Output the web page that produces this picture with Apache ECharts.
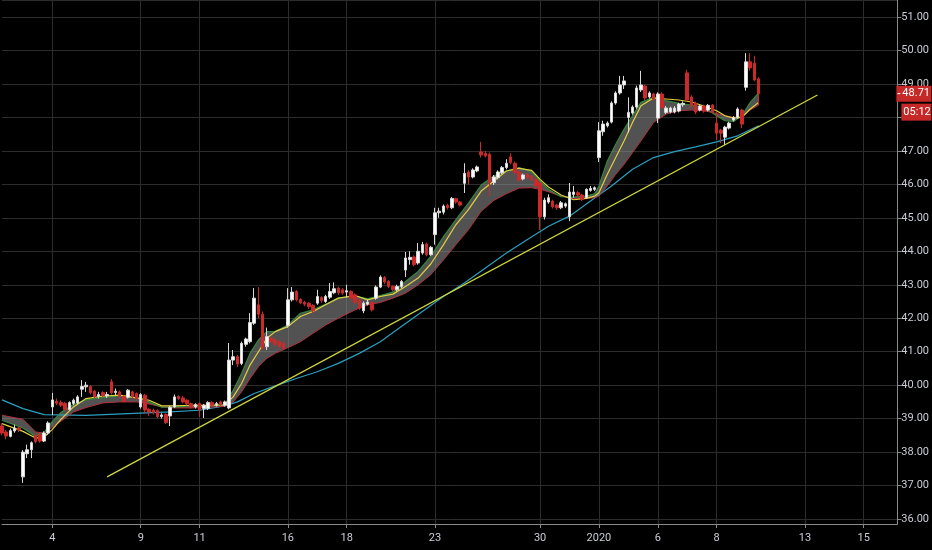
<!DOCTYPE html>
<html lang="en">
<head>
    <meta charset="UTF-8">
    <title>Hourly candles with EMA ribbon</title>
    <script src="https://cdn.jsdelivr.net/npm/echarts@6/dist/echarts.min.js"></script>
    <style>
        html, body { margin: 0; padding: 0; background: #000; }
        #chart { width: 932px; height: 550px; }
    </style>
</head>
<body>
<div id="chart"></div>
<script type="text/javascript">

    // trading sessions shown: [date, hourly bars]
    let sessions = [
        ['2019-12-02', 5], ['2019-12-03', 7], ['2019-12-04', 7], ['2019-12-05', 7], ['2019-12-06', 7],
        ['2019-12-09', 7], ['2019-12-10', 7], ['2019-12-11', 7], ['2019-12-12', 7], ['2019-12-13', 7],
        ['2019-12-16', 7], ['2019-12-17', 7], ['2019-12-18', 7], ['2019-12-19', 7], ['2019-12-20', 7],
        ['2019-12-23', 7], ['2019-12-24', 4], ['2019-12-26', 7], ['2019-12-27', 7], ['2019-12-30', 7],
        ['2019-12-31', 7], ['2020-01-02', 7], ['2020-01-03', 7], ['2020-01-06', 7], ['2020-01-07', 7],
        ['2020-01-08', 7], ['2020-01-09', 7], ['2020-01-10', 7], ['2020-01-13', 7], ['2020-01-14', 7],
        ['2020-01-15', 7], ['2020-01-16', 2]
    ];
    let hours = ['09:30', '10:30', '11:30', '12:30', '13:30', '14:30', '15:30'];

    let tickDates = ['2019-12-04', '2019-12-09', '2019-12-11', '2019-12-16', '2019-12-18', '2019-12-23',
        '2019-12-30', '2020-01-02', '2020-01-06', '2020-01-08', '2020-01-13', '2020-01-15'];
    let tickTexts = ['4', '9', '11', '16', '18', '23', '30', '2020', '6', '8', '13', '15'];

    // [open, close, low, high]
    let candles = [
        [38.78, 38.57, 38.50, 38.86], [38.60, 38.48, 38.38, 38.66], [38.47, 38.64, 38.44, 38.70], [38.63, 38.72, 38.58, 38.82],
        [38.72, 38.66, 38.60, 38.76], [37.26, 38.00, 37.08, 38.06], [37.95, 38.07, 37.82, 38.22], [38.07, 38.28, 37.82, 38.32],
        [38.50, 38.32, 38.26, 38.56], [38.52, 38.33, 38.28, 38.58], [38.33, 38.57, 38.30, 38.62], [38.57, 38.87, 38.52, 38.92],
        [39.35, 39.56, 39.11, 39.77], [39.52, 39.46, 39.40, 39.60], [39.48, 39.40, 39.35, 39.55], [39.45, 39.27, 39.22, 39.50],
        [39.27, 39.48, 39.24, 39.52], [39.45, 39.55, 39.40, 39.60], [39.47, 39.65, 39.44, 39.70], [39.88, 39.96, 39.65, 40.15],
        [39.95, 40.00, 39.80, 40.10], [39.96, 39.78, 39.72, 40.00], [39.82, 39.65, 39.60, 39.86], [39.66, 39.72, 39.60, 39.80],
        [39.78, 39.70, 39.64, 39.82], [39.68, 39.72, 39.62, 39.80], [40.10, 39.77, 39.72, 40.18], [39.78, 39.82, 39.70, 39.90],
        [39.80, 39.66, 39.62, 39.84], [39.66, 39.52, 39.48, 39.70], [39.64, 39.85, 39.60, 39.88], [39.80, 39.66, 39.62, 39.84],
        [39.75, 39.60, 39.56, 39.78], [39.35, 39.72, 39.30, 39.76], [39.70, 39.26, 39.16, 39.74], [39.28, 39.20, 39.08, 39.32],
        [39.25, 39.18, 39.12, 39.30], [39.24, 39.06, 39.02, 39.28], [39.06, 39.11, 39.00, 39.16], [39.12, 38.88, 38.84, 39.16],
        [39.08, 39.34, 38.78, 39.38], [39.35, 39.65, 39.32, 39.72], [39.66, 39.60, 39.56, 39.70], [39.62, 39.50, 39.46, 39.68],
        [39.55, 39.45, 39.40, 39.58], [39.45, 39.35, 39.30, 39.48], [39.35, 39.42, 39.30, 39.46], [39.45, 39.26, 39.05, 39.48],
        [39.30, 39.40, 39.02, 39.44], [39.30, 39.48, 39.26, 39.52], [39.48, 39.40, 39.36, 39.52], [39.40, 39.45, 39.36, 39.50],
        [39.50, 39.42, 39.38, 39.54], [39.40, 39.50, 39.36, 39.54], [39.32, 40.75, 39.28, 41.26], [40.75, 40.85, 40.60, 41.05],
        [40.85, 40.63, 40.54, 40.90], [40.65, 41.25, 40.60, 41.30], [41.22, 41.38, 41.15, 41.42], [41.30, 41.87, 41.25, 42.15],
        [41.85, 42.60, 41.80, 42.90], [42.40, 42.12, 42.00, 42.93], [42.12, 41.12, 41.05, 42.20], [41.15, 41.45, 41.05, 41.72],
        [41.40, 41.32, 41.26, 41.45], [41.35, 41.22, 41.16, 41.40], [41.30, 41.16, 41.10, 41.34], [41.25, 41.10, 41.05, 41.30],
        [41.78, 42.55, 41.72, 42.90], [42.55, 42.78, 42.50, 42.93], [42.80, 42.55, 42.50, 42.84], [42.56, 42.46, 42.42, 42.60],
        [42.48, 42.42, 42.36, 42.52], [42.45, 42.35, 42.28, 42.48], [42.38, 42.22, 42.15, 42.42], [42.45, 42.65, 42.40, 42.85],
        [42.62, 42.52, 42.46, 42.66], [42.50, 42.65, 42.46, 42.70], [42.63, 42.80, 42.58, 43.05], [42.76, 42.88, 42.72, 43.07],
        [42.90, 42.76, 42.70, 42.94], [42.85, 42.75, 42.70, 42.90], [42.78, 42.82, 42.62, 43.00], [42.80, 42.60, 42.55, 42.84],
        [42.70, 42.48, 42.42, 42.74], [42.55, 42.30, 42.25, 42.58], [42.22, 42.45, 42.15, 42.50], [42.42, 42.48, 42.38, 42.55],
        [42.47, 42.25, 42.20, 42.50], [42.60, 42.93, 42.55, 42.98], [42.93, 43.23, 42.90, 43.28], [43.22, 43.08, 43.02, 43.26],
        [43.10, 42.95, 42.90, 43.14], [42.95, 42.85, 42.80, 42.98], [42.85, 42.95, 42.80, 43.00], [42.95, 43.10, 42.90, 43.14],
        [43.44, 43.80, 43.23, 43.98], [43.75, 43.82, 43.60, 44.00], [43.83, 43.60, 43.55, 43.88], [43.65, 44.00, 43.60, 44.25],
        [43.95, 44.20, 43.90, 44.28], [44.22, 43.90, 43.85, 44.26], [43.90, 44.12, 43.86, 44.16], [44.50, 45.15, 44.20, 45.30],
        [45.15, 45.20, 45.00, 45.30], [45.17, 45.35, 45.10, 45.40], [45.37, 45.30, 45.25, 45.42], [45.30, 45.58, 45.26, 45.62],
        [45.57, 45.47, 45.42, 45.60], [45.47, 45.38, 45.34, 45.50], [46.03, 46.33, 45.74, 46.63], [46.37, 46.22, 46.00, 46.42],
        [46.22, 46.43, 46.18, 46.48], [46.40, 46.52, 46.36, 46.56], [46.97, 46.88, 46.80, 47.27], [46.92, 46.85, 46.80, 47.00],
        [46.90, 46.05, 45.65, 46.95], [46.05, 46.22, 45.98, 46.28], [46.20, 46.37, 46.15, 46.42], [46.35, 46.50, 46.30, 46.55],
        [46.50, 46.63, 46.45, 46.75], [46.82, 46.65, 46.60, 46.93], [46.63, 46.35, 46.30, 46.68], [46.37, 46.13, 46.08, 46.42],
        [46.16, 46.28, 46.12, 46.32], [46.30, 46.20, 46.16, 46.34], [46.25, 46.15, 46.10, 46.28], [46.15, 45.95, 45.90, 46.18],
        [46.04, 45.03, 44.64, 46.10], [45.03, 45.53, 44.95, 45.60], [45.47, 45.60, 45.42, 45.70], [45.50, 45.33, 45.28, 45.54],
        [45.38, 45.30, 45.24, 45.42], [45.30, 45.45, 45.26, 45.50], [45.35, 45.42, 45.30, 45.46], [45.03, 45.77, 44.90, 46.04],
        [45.70, 45.77, 45.60, 45.95], [45.75, 45.68, 45.62, 45.80], [45.68, 45.55, 45.50, 45.72], [45.60, 45.85, 45.56, 45.88],
        [45.82, 45.88, 45.78, 45.95], [45.85, 45.90, 45.80, 45.94], [46.80, 47.60, 46.67, 47.86], [47.57, 47.80, 47.45, 47.90],
        [47.75, 47.83, 47.70, 47.88], [47.86, 48.43, 47.82, 48.48], [48.43, 48.73, 48.38, 48.78], [48.73, 48.97, 48.68, 49.24],
        [48.97, 49.09, 48.85, 49.24], [48.00, 48.15, 47.55, 48.60], [48.13, 48.31, 48.08, 48.36], [48.31, 48.88, 48.26, 48.95],
        [48.82, 48.97, 48.76, 49.39], [48.94, 48.58, 48.52, 48.98], [48.61, 48.73, 48.56, 48.78], [48.70, 48.55, 48.50, 48.74],
        [47.98, 48.70, 47.83, 48.75], [48.70, 48.30, 48.25, 48.75], [48.15, 48.28, 48.10, 48.34], [48.16, 48.28, 48.12, 48.32],
        [48.16, 48.28, 48.12, 48.34], [48.19, 48.40, 48.15, 48.44], [48.38, 48.42, 48.32, 48.48], [49.33, 48.52, 48.48, 49.42],
        [48.61, 48.34, 48.28, 48.66], [48.43, 48.16, 48.10, 48.47], [48.22, 48.34, 48.18, 48.38], [48.34, 48.19, 48.14, 48.38],
        [48.22, 48.36, 48.18, 48.40], [48.37, 48.16, 48.12, 48.40], [47.83, 47.53, 47.33, 48.16], [47.62, 47.53, 47.23, 47.66],
        [47.41, 47.71, 47.17, 47.75], [47.68, 47.83, 47.64, 47.87], [47.92, 48.00, 47.88, 48.04], [48.00, 48.25, 47.96, 48.30],
        [48.22, 47.80, 47.68, 48.26], [48.90, 49.66, 48.80, 49.92], [49.66, 49.48, 49.40, 49.92], [49.62, 49.12, 49.08, 49.84],
        [49.15, 48.71, 48.37, 49.20]
    ];

    // moving averages at these bar indices
    let maIdx = [0, 5, 8, 10, 12, 14, 17, 20, 24, 28, 32, 35, 38, 41, 45, 49, 53, 55, 57, 59, 61, 63, 65, 68, 71, 74,
        77, 80, 84, 87, 90, 93, 96, 99, 102, 105, 108, 111, 114, 117, 120, 123, 126, 128, 130, 133, 136, 139, 141, 142,
        144, 146, 148, 150, 152, 155, 158, 161, 164, 167, 170, 172, 174, 176, 178, 180];
    let greenMa = [38.95, 38.72, 38.47, 38.58, 38.92, 39.18, 39.42, 39.56, 39.63, 39.68, 39.63, 39.50, 39.34, 39.35, 39.38,
        39.38, 39.41, 39.85, 40.35, 40.95, 41.35, 41.60, 41.60, 41.80, 42.15, 42.25, 42.42, 42.60, 42.66, 42.58, 42.68,
        42.78, 43.10, 43.40, 43.85, 44.43, 44.95, 45.45, 45.98, 46.25, 46.40, 46.50, 46.38, 46.10, 45.85, 45.63, 45.62,
        45.65, 45.72, 45.95, 46.70, 47.20, 47.65, 48.05, 48.45, 48.60, 48.50, 48.42, 48.37, 48.30, 48.05, 47.90, 47.88,
        48.05, 48.45, 48.73];
    let yellowMa = [38.85, 38.62, 38.42, 38.45, 38.68, 38.98, 39.35, 39.60, 39.67, 39.70, 39.62, 39.55, 39.38, 39.38, 39.40,
        39.40, 39.41, 39.65, 40.05, 40.60, 41.00, 41.40, 41.60, 41.75, 42.05, 42.20, 42.40, 42.60, 42.68, 42.55, 42.65,
        42.72, 42.95, 43.20, 43.62, 44.19, 44.80, 45.25, 45.80, 46.10, 46.40, 46.48, 46.42, 46.15, 45.92, 45.68, 45.54,
        45.58, 45.65, 45.75, 46.30, 46.80, 47.30, 47.85, 48.35, 48.58, 48.55, 48.52, 48.46, 48.34, 48.20, 48.05, 47.98,
        48.00, 48.25, 48.45];
    let redMa = [39.10, 38.98, 38.60, 38.57, 38.75, 38.92, 39.20, 39.33, 39.47, 39.50, 39.50, 39.44, 39.35, 39.32, 39.32,
        39.34, 39.37, 39.50, 39.80, 40.20, 40.55, 40.80, 40.95, 41.12, 41.30, 41.55, 41.80, 42.00, 42.25, 42.40, 42.47,
        42.60, 42.75, 43.00, 43.30, 43.74, 44.20, 44.65, 45.20, 45.52, 45.72, 45.89, 45.90, 45.85, 45.78, 45.65, 45.58,
        45.58, 45.60, 45.65, 45.95, 46.30, 46.60, 46.95, 47.30, 47.85, 48.10, 48.20, 48.22, 48.20, 48.12, 48.05, 48.00,
        48.02, 48.22, 48.37];

    let tealIdx = [0, 5, 10, 20, 30, 40, 47, 53, 56, 60, 65, 70, 75, 80, 85, 90, 95, 100, 105, 110, 115, 120, 125, 130,
        135, 140, 145, 150, 155, 160, 165, 170, 175, 180];
    let tealMa = [39.56, 39.30, 39.12, 39.10, 39.15, 39.20, 39.25, 39.38, 39.50, 39.75, 39.98, 40.20, 40.40, 40.65, 40.95,
        41.30, 41.75, 42.20, 42.65, 43.05, 43.50, 43.95, 44.35, 44.75, 45.05, 45.50, 45.95, 46.45, 46.80, 46.98, 47.12,
        47.27, 47.45, 47.75];

    // support trendline [bar index, price]
    let trendLine = [[25, 37.26], [194, 48.67]];

    let countdown = '05:12';

    // build the bar categories
    let categories = [];
    let firstBar = {};
    sessions.forEach(function (s, k) {
        let list = k === 0 ? hours.slice(hours.length - s[1]) : hours.slice(0, s[1]);
        firstBar[s[0]] = categories.length;
        list.forEach(function (h) { categories.push(s[0] + ' ' + h); });
    });
    let tickMap = {};
    tickDates.forEach(function (d, k) { tickMap[firstBar[d]] = tickTexts[k]; });
    let showTick = function (index) { return tickMap[index] !== undefined; };

    let pairs = function (idx, vals) {
        return idx.map(function (d, k) { return [d, vals[k]]; });
    };
    let lastClose = candles[candles.length - 1][1];

    let axisFont = { color: '#c9ccd4', fontSize: 11, fontFamily: 'Roboto, "DejaVu Sans", sans-serif' };

    let myChart = echarts.init(document.getElementById('chart'));

    let option = {
        animation: false,
        backgroundColor: '#000000',
        grid: { left: 2, right: 33, top: 0, bottom: 26 },
        xAxis: {
            type: 'category',
            data: categories,
            boundaryGap: false,
            axisLine: { lineStyle: { color: '#8a8a8a', width: 1 } },
            axisTick: { show: true, length: 4, interval: showTick, lineStyle: { color: '#8a8a8a' } },
            axisLabel: Object.assign({
                interval: showTick,
                margin: 9,
                formatter: function (value, index) { return tickMap[index] || ''; }
            }, axisFont),
            splitLine: { show: true, interval: showTick, lineStyle: { color: '#2c2c2c', width: 1 } }
        },
        yAxis: {
            type: 'value',
            position: 'right',
            min: 35.852,
            max: 51.508,
            splitNumber: 15,
            axisLine: { show: true, lineStyle: { color: '#8a8a8a' } },
            axisTick: { show: true, length: 4, lineStyle: { color: '#8a8a8a' } },
            axisLabel: Object.assign({
                margin: 4,
                showMinLabel: false,
                showMaxLabel: false,
                formatter: function (v) { return v.toFixed(2); }
            }, axisFont),
            splitLine: { show: true, lineStyle: { color: '#2c2c2c', width: 1 } }
        },
        series: [
            {
                name: 'ribbon',
                type: 'custom',
                silent: true,
                clip: true,
                z: 1,
                data: [[maIdx[0], redMa[0]]],
                renderItem: function (params, api) {
                    let pts = [];
                    for (let k = 0; k < maIdx.length; k++) pts.push(api.coord([maIdx[k], greenMa[k]]));
                    for (let k = maIdx.length - 1; k >= 0; k--) pts.push(api.coord([maIdx[k], redMa[k]]));
                    return { type: 'polygon', shape: { points: pts }, style: { fill: 'rgba(150,150,150,0.55)' } };
                }
            },
            {
                name: 'EMA slow', type: 'line', z: 2, showSymbol: false, silent: true,
                data: pairs(tealIdx, tealMa),
                lineStyle: { color: '#2b9fc0', width: 1.2 }
            },
            {
                name: 'EMA red', type: 'line', z: 2, showSymbol: false, silent: true,
                data: pairs(maIdx, redMa),
                lineStyle: { color: '#b0303a', width: 1 }
            },
            {
                name: 'EMA green', type: 'line', z: 2, showSymbol: false, silent: true,
                data: pairs(maIdx, greenMa),
                lineStyle: { color: '#2f8a3a', width: 1.2 }
            },
            {
                name: 'EMA yellow', type: 'line', z: 2, showSymbol: false, silent: true,
                data: pairs(maIdx, yellowMa),
                lineStyle: { color: '#e0d040', width: 1.2 }
            },
            {
                name: 'price', type: 'candlestick', z: 3,
                barWidth: 3,
                data: candles,
                itemStyle: {
                    color: '#ffffff',
                    color0: '#cc2a2a',
                    borderColor: '#d8d8d8',
                    borderColor0: '#cc2a2a',
                    borderWidth: 1
                }
            },
            {
                name: 'trend', type: 'line', z: 4, showSymbol: false, silent: true,
                data: trendLine,
                lineStyle: { color: '#cfd63a', width: 1.3 }
            }
        ]
    };
    myChart.setOption(option);

    // last price and countdown tags on the price scale
    let yPx = myChart.convertToPixel({ yAxisIndex: 0 }, lastClose);
    let xEdge = myChart.convertToPixel({ xAxisIndex: 0 }, categories.length - 1);
    let tagFont = 'Roboto, "DejaVu Sans", sans-serif';
    myChart.setOption({
        graphic: [
            {
                type: 'rect', z: 100,
                shape: { x: xEdge - 1, y: yPx - 8, width: 35, height: 16 },
                style: { fill: '#c62828' }
            },
            {
                type: 'line', z: 101,
                shape: { x1: xEdge, y1: yPx, x2: xEdge + 3, y2: yPx },
                style: { stroke: '#ffffff', lineWidth: 1 }
            },
            {
                type: 'text', z: 101, x: xEdge + 5, y: yPx,
                style: { text: lastClose.toFixed(2), fill: '#ffffff', fontSize: 11, fontFamily: tagFont, verticalAlign: 'middle' }
            },
            {
                type: 'rect', z: 100,
                shape: { x: xEdge + 4, y: yPx + 10, width: 30, height: 17 },
                style: { fill: '#c62828' }
            },
            {
                type: 'text', z: 101, x: xEdge + 6, y: yPx + 18.5,
                style: { text: countdown, fill: '#ffffff', fontSize: 11, fontFamily: tagFont, verticalAlign: 'middle' }
            }
        ]
    });

</script>
</body>
</html>
